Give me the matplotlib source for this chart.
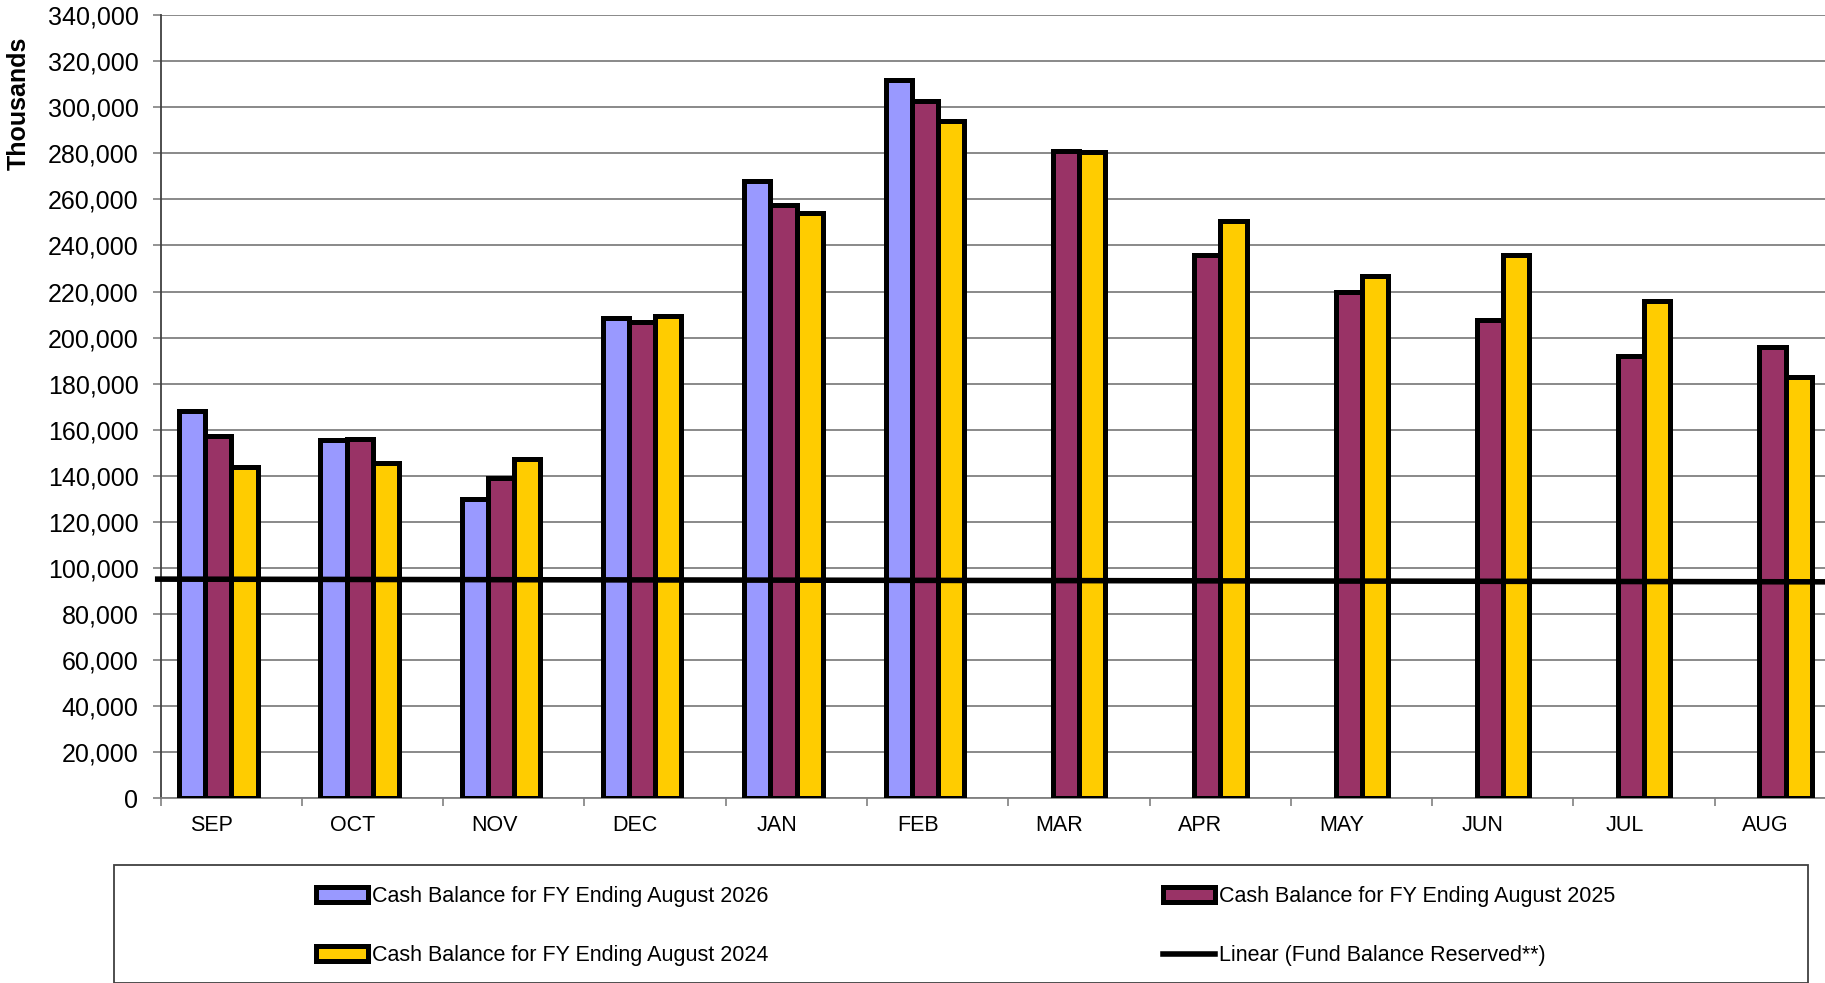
import numpy as np
import matplotlib.pyplot as plt
from matplotlib.patches import Rectangle, Patch
from matplotlib.lines import Line2D
from matplotlib.ticker import FuncFormatter, FixedLocator

plt.rcParams['font.family'] = ['Liberation Sans', 'DejaVu Sans']

months = ['SEP', 'OCT', 'NOV', 'DEC', 'JAN', 'FEB', 'MAR', 'APR', 'MAY', 'JUN', 'JUL', 'AUG']
fy2026 = [168200, 155600, 129800, 208600, 268000, 311700]
fy2025 = [157100, 156000, 139000, 207000, 257600, 302600, 281000, 236000, 220000, 207600, 192000, 196000]
fy2024 = [144000, 145500, 147500, 209600, 254000, 294000, 280400, 250600, 226800, 236000, 215700, 183000]
trend_x = [-0.54, 11.5]
trend_y = [95200, 94000]

labels = ['Cash Balance for FY Ending August 2026',
          'Cash Balance for FY Ending August 2025',
          'Cash Balance for FY Ending August 2024',
          'Linear (Fund Balance Reserved**)']
colors = ['#9999FF', '#993366', '#FFCC00']

fig = plt.figure(figsize=(18.25, 9.83), dpi=100)
ax = fig.add_axes([0.088, 0.1877, 0.929, 0.797])

w = 0.185
offsets = [-0.276, -0.091, 0.094]
x = np.arange(len(months))
for vals, off, c in zip([fy2026, fy2025, fy2024], offsets, colors):
    ax.bar(x[:len(vals)] + off, vals, width=w, color=c, edgecolor='black',
           linewidth=3.6, zorder=3)

ax.plot(trend_x, trend_y, color='black', linewidth=4, zorder=5,
        clip_on=False, solid_capstyle='butt')

ax.set_xlim(-0.5, 11.5)
ax.set_ylim(0, 340000)
ax.set_yticks(np.arange(0, 340001, 20000))
ax.yaxis.set_major_formatter(FuncFormatter(lambda v, p: f'{int(v):,}'))
ax.grid(axis='y', color='#808080', linewidth=1.3, zorder=0)
ax.set_axisbelow(True)

ax.xaxis.set_major_locator(FixedLocator(np.arange(-0.5, 12, 1)))
ax.xaxis.set_minor_locator(FixedLocator(x - 0.14))
ax.set_xticklabels([''] * 13)
ax.set_xticklabels(months, minor=True)
ax.tick_params(axis='x', which='major', length=6, width=1.2, color='#808080', direction='out')
ax.tick_params(axis='x', which='minor', length=0, pad=12, labelsize=15.5)
ax.tick_params(axis='y', length=6, width=1.2, color='#808080', pad=10, labelsize=18)

for s in ['top', 'right']:
    ax.spines[s].set_visible(False)
ax.spines['left'].set_color('#404040')
ax.spines['left'].set_linewidth(1.3)
ax.spines['bottom'].set_color('#808080')
ax.spines['bottom'].set_linewidth(1.3)

fig.text(0.0105, 0.895, 'Thousands', rotation=90, fontsize=18, fontweight='bold',
         ha='center', va='center')

# legend box
fig.patches.append(Rectangle((114 / 1825, 0.0), (1808 - 114) / 1825, (983 - 865) / 983,
                             transform=fig.transFigure, facecolor='white',
                             edgecolor='#404040', linewidth=1.3))

handles = [Patch(facecolor=colors[0], edgecolor='black', linewidth=3.6),
           Patch(facecolor=colors[1], edgecolor='black', linewidth=3.6),
           Patch(facecolor=colors[2], edgecolor='black', linewidth=3.6),
           Line2D([], [], color='black', linewidth=4)]

leg_kw = dict(frameon=False, loc='center left', fontsize=15.5, handlelength=2.4,
              handleheight=0.7, handletextpad=0.2, borderpad=0, borderaxespad=0,
              labelspacing=1.8)
leg1 = fig.legend([handles[0], handles[2]], [labels[0], labels[2]],
                  bbox_to_anchor=(316 / 1825, 1 - 926 / 983), **leg_kw)
leg2 = fig.legend([handles[1], handles[3]], [labels[1], labels[3]],
                  bbox_to_anchor=(1163 / 1825, 1 - 926 / 983), **leg_kw)

fig.savefig('out.png', dpi=100)
